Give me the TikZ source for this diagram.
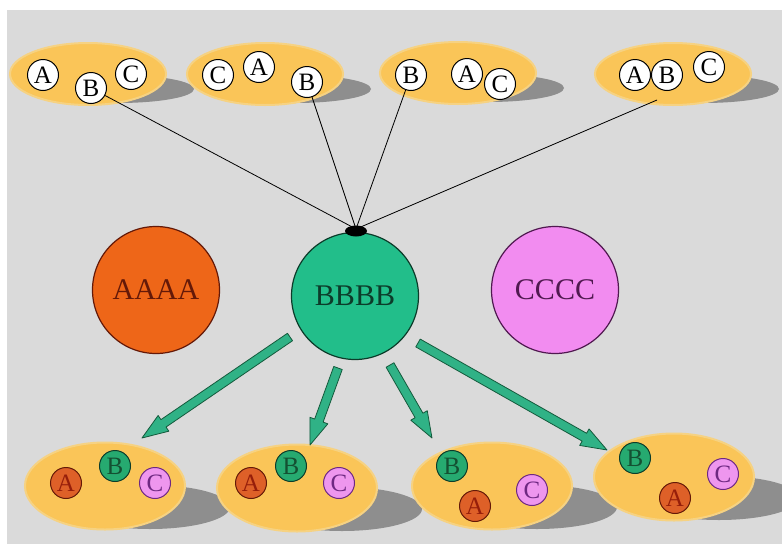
\documentclass[tikz,border=0pt]{standalone}
\usepackage{fontspec}
\setmainfont{Liberation Serif}
\usetikzlibrary{shapes.geometric,calc}
\definecolor{bgc}{RGB}{218,218,218}
\definecolor{ellc}{RGB}{250,197,88}
\definecolor{elledge}{RGB}{246,210,130}
\definecolor{shadc}{RGB}{142,142,142}
\definecolor{orangec}{RGB}{238,102,24}
\definecolor{orangedk}{RGB}{100,25,8}
\definecolor{greenc}{RGB}{34,190,138}
\definecolor{greendk}{RGB}{12,60,42}
\definecolor{pinkc}{RGB}{242,140,240}
\definecolor{pinkdk}{RGB}{80,25,80}
\definecolor{smallA}{RGB}{222,96,40}
\definecolor{smallAt}{RGB}{150,30,10}
\definecolor{smallB}{RGB}{38,170,112}
\definecolor{smallBt}{RGB}{20,80,50}
\definecolor{smallC}{RGB}{238,150,238}
\definecolor{smallCt}{RGB}{110,40,130}
\definecolor{arrfill}{RGB}{48,178,134}
\definecolor{arrdraw}{RGB}{20,90,60}
\tikzset{
  ell/.style={ellipse, fill=ellc, draw=elledge, line width=2pt, inner sep=0pt},
  topell/.style={ell, minimum width=156pt, minimum height=62pt},
  botell/.style={ell, minimum width=160pt, minimum height=87pt},
  shad/.style={fill=shadc},
  letter/.style={circle, inner sep=0pt, minimum size=31pt, line width=1pt,
    font=\fontsize{25}{25}\selectfont},
  topletter/.style={letter, draw=black, fill=white, text=black},
  letA/.style={letter, draw=orangedk, fill=smallA, text=smallAt},
  letB/.style={letter, draw=greendk, fill=smallB, text=smallBt},
  letC/.style={letter, draw=smallCt, fill=smallC, text=smallCt},
  bigc/.style={circle, inner sep=0pt, minimum size=127pt, line width=1.2pt,
    font=\fontsize{30}{30}\selectfont},
  spoke/.style={draw=black, line width=0.8pt},
  blockarrow/.style={fill=arrfill, draw=arrdraw, line width=0.8pt, line join=round}
}
\newcommand\myblockarrow[2]{%
  \draw[blockarrow] let \p1=(#1), \p2=(#2),
    \n1={atan2(\y2-\y1,\x2-\x1)}, \n2={veclen(\x2-\x1,\y2-\y1)} in
    [shift={(\p1)}, rotate=\n1]
    (0pt,-4.5pt) -- ({\n2*1pt-26pt},-4.5pt) -- ({\n2*1pt-26pt},-9.5pt)
    -- ({\n2*1pt},0pt) -- ({\n2*1pt-26pt},9.5pt) -- ({\n2*1pt-26pt},4.5pt)
    -- (0pt,4.5pt) -- cycle;}
\begin{document}
\begin{tikzpicture}[x=1pt,y=-1pt]
\useasboundingbox (0,0) rectangle (782,544);
\fill[white] (0,0) rectangle (782,544);
\fill[bgc] (7,10) rectangle (782,544);

% top shadows
\foreach \cx/\cy in {88/74, 265/74, 458/73, 673/74}
  \fill[shad] (\cx+30,\cy+15) ellipse [x radius=76pt, y radius=14pt];
% bottom shadows
\foreach \cx/\cy in {105/486, 297/488, 492/486, 674/477}
  \fill[shad] (\cx+45,\cy+21) ellipse [x radius=80pt, y radius=22pt];

% top ellipses
\node[topell] (e1) at (88,74) {};
\node[topell] (e2) at (265,74) {};
\node[topell] (e3) at (458,73) {};
\node[topell] (e4) at (673,74) {};

% bottom ellipses
\node[botell] (f1) at (105,486) {};
\node[botell] (f2) at (297,488) {};
\node[botell] (f3) at (492,486) {};
\node[botell] (f4) at (674,477) {};

% top letters
\node[topletter] (t1a) at (43,75) {A};
\node[topletter] (t1b) at (91,88) {B};
\node[topletter] (t1c) at (131,74) {C};
\node[topletter] (t2c) at (218,75) {C};
\node[topletter] (t2a) at (259,67) {A};
\node[topletter] (t2b) at (307,82) {B};
\node[topletter] (t3b) at (411,75) {B};
\node[topletter] (t3a) at (467,74) {A};
\node[topletter] (t3c) at (500,84) {C};
\node[topletter] (t4a) at (635,75) {A};
\node[topletter] (t4b) at (667,75) {B};
\node[topletter] (t4c) at (709,67) {C};

% bottom letters
\node[letA] (b1a) at (66,483) {A};
\node[letB] (b1b) at (115,466) {B};
\node[letC] (b1c) at (155,483) {C};
\node[letA] (b2a) at (251,483) {A};
\node[letB] (b2b) at (291,466) {B};
\node[letC] (b2c) at (339,483) {C};
\node[letB] (b3b) at (452,466) {B};
\node[letA] (b3a) at (475,506) {A};
\node[letC] (b3c) at (532,490) {C};
\node[letB] (b4b) at (635,458) {B};
\node[letA] (b4a) at (675,498) {A};
\node[letC] (b4c) at (723,474) {C};

% spokes to hub
\coordinate (hub) at (356,229);
\coordinate (e4end) at (657,100);
\draw[spoke] (t1b) -- (hub);
\draw[spoke] (t2b) -- (hub);
\draw[spoke] (t3b) -- (hub);
\draw[spoke] (e4end) -- (hub);

% big circles
\node[bigc, fill=orangec, draw=orangedk, text=orangedk] (AAAA) at (156,290) {AAAA};
\node[bigc, fill=greenc, draw=greendk, text=greendk] (BBBB) at (355,296) {BBBB};
\node[bigc, fill=pinkc, draw=pinkdk, text=pinkdk] (CCCC) at (555,290) {CCCC};
\node[ellipse, fill=black, minimum width=22pt, minimum height=11pt, inner sep=0pt] (cap) at (356,231) {};

% block arrows
\coordinate (a1s) at (290,337); \coordinate (a1e) at (142,438);
\coordinate (a2s) at (338,368); \coordinate (a2e) at (310,445);
\coordinate (a3s) at (390,365); \coordinate (a3e) at (432,438);
\coordinate (a4s) at (418,343); \coordinate (a4e) at (607,450);
\myblockarrow{a1s}{a1e}
\myblockarrow{a2s}{a2e}
\myblockarrow{a3s}{a3e}
\myblockarrow{a4s}{a4e}
\end{tikzpicture}
\end{document}
